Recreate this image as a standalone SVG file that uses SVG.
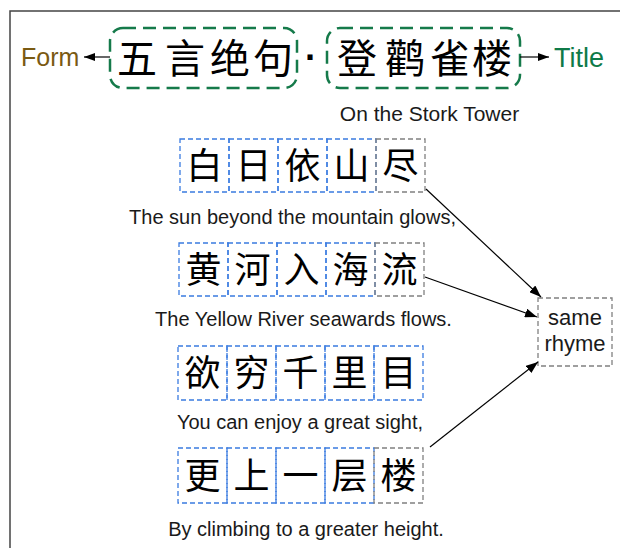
<svg xmlns="http://www.w3.org/2000/svg" width="620" height="548" viewBox="0 0 620 548">
<style>
.en{font-family:"Liberation Sans",Arial,sans-serif;fill:#1a1a1a}
.cn{font-family:"Noto Sans CJK SC","Noto Sans CJK JP",sans-serif;fill:#000;text-anchor:middle}
.tbox{fill:none;stroke:#157a4a;stroke-width:2.5;stroke-dasharray:13 7}
.cb{fill:none;stroke:#3a7be0;stroke-width:1.3;stroke-dasharray:5 3}
.cg{fill:none;stroke:#808080;stroke-width:1.3;stroke-dasharray:5 3}
.ln{stroke:#000;stroke-width:1.2;fill:none}
</style>
<defs>
<marker id="ah" markerWidth="12" markerHeight="9" refX="12" refY="4.5" orient="auto" markerUnits="userSpaceOnUse"><path d="M0,0 L12,4.5 L0,9 Z" fill="#000"/></marker>
<marker id="as" markerWidth="11" markerHeight="8" refX="11" refY="4" orient="auto" markerUnits="userSpaceOnUse"><path d="M0,0 L11,4 L0,8 Z" fill="#000"/></marker>
</defs>
<rect width="620" height="548" fill="#fff"/>
<path d="M10,548 V11 H620" fill="none" stroke="#444" stroke-width="1.5"/>

<g id="form-label"><text class="en" x="21" y="66" font-size="25" style="fill:#7a5a12">Form</text></g>
<g id="title-label"><text class="en" x="554" y="66.5" font-size="27" style="fill:#0f7a48">Title</text></g>

<g id="form-box">
<rect class="tbox" x="110" y="28" width="187" height="60" rx="13"/>
<text class="cn" y="73" font-size="40"><tspan x="137">五</tspan><tspan x="185">言</tspan><tspan x="230">绝</tspan><tspan x="273">句</tspan></text>
</g>
<g id="dot"><text class="en" x="311" y="70" font-size="36" font-weight="bold" text-anchor="middle" style="fill:#000">·</text></g>
<g id="title-box">
<rect class="tbox" x="327" y="28" width="193" height="60" rx="13"/>
<text class="cn" y="73" font-size="40"><tspan x="357">登</tspan><tspan x="405">鹳</tspan><tspan x="450">雀</tspan><tspan x="492">楼</tspan></text>
</g>
<g id="title-en"><text class="en" x="429.5" y="121" font-size="21" text-anchor="middle">On the Stork Tower</text></g>

<g id="line1">
<rect class="cb" x="180" y="139" width="49" height="53"/>
<rect class="cb" x="229" y="139" width="49" height="53"/>
<rect class="cb" x="278" y="139" width="49" height="53"/>
<rect class="cb" x="327" y="139" width="49" height="53"/>
<rect class="cg" x="376" y="139" width="49" height="53"/>
<text class="cn" y="179" font-size="36"><tspan x="204.5">白</tspan><tspan x="253.5">日</tspan><tspan x="302.5">依</tspan><tspan x="351.5">山</tspan><tspan x="400.5">尽</tspan></text>
<text class="en" x="292.5" y="224" font-size="20" text-anchor="middle">The sun beyond the mountain glows,</text>
</g>
<g id="line2">
<rect class="cb" x="179" y="243" width="49" height="53"/>
<rect class="cb" x="228" y="243" width="49" height="53"/>
<rect class="cb" x="277" y="243" width="49" height="53"/>
<rect class="cb" x="326" y="243" width="49" height="53"/>
<rect class="cg" x="375" y="243" width="49" height="53"/>
<text class="cn" y="283" font-size="36"><tspan x="203.5">黄</tspan><tspan x="252.5">河</tspan><tspan x="301.5">入</tspan><tspan x="350.5">海</tspan><tspan x="399.5">流</tspan></text>
<text class="en" x="303.5" y="326" font-size="20" text-anchor="middle">The Yellow River seawards flows.</text>
</g>
<g id="line3">
<rect class="cb" x="178" y="346" width="49" height="54"/>
<rect class="cb" x="227" y="346" width="49" height="54"/>
<rect class="cb" x="276" y="346" width="49" height="54"/>
<rect class="cb" x="325" y="346" width="49" height="54"/>
<rect class="cb" x="374" y="346" width="49" height="54"/>
<text class="cn" y="386" font-size="36"><tspan x="202.5">欲</tspan><tspan x="251.5">穷</tspan><tspan x="300.5">千</tspan><tspan x="349.5">里</tspan><tspan x="398.5">目</tspan></text>
<text class="en" x="300" y="429" font-size="20" text-anchor="middle">You can enjoy a great sight,</text>
</g>
<g id="line4">
<rect class="cb" x="178" y="448" width="49" height="55"/>
<rect class="cb" x="227" y="448" width="49" height="55"/>
<rect class="cb" x="276" y="448" width="49" height="55"/>
<rect class="cb" x="325" y="448" width="49" height="55"/>
<rect class="cg" x="374" y="448" width="49" height="55"/>
<text class="cn" y="489" font-size="36"><tspan x="202.5">更</tspan><tspan x="251.5">上</tspan><tspan x="300.5">一</tspan><tspan x="349.5">层</tspan><tspan x="398.5">楼</tspan></text>
<text class="en" x="306" y="536" font-size="20" text-anchor="middle">By climbing to a greater height.</text>
</g>

<g id="same-rhyme">
<rect class="cg" x="538" y="298" width="74" height="68"/>
<text class="en" x="575" y="325" font-size="22" text-anchor="middle">same</text>
<text class="en" x="575" y="351" font-size="22" text-anchor="middle">rhyme</text>
</g>

<g id="connectors">
<line class="ln" x1="110" y1="57" x2="84" y2="57" marker-end="url(#as)"/>
<line class="ln" x1="520" y1="57" x2="549" y2="57" marker-end="url(#as)"/>
<line class="ln" x1="426" y1="189" x2="541" y2="297" marker-end="url(#ah)"/>
<line class="ln" x1="425" y1="277" x2="537" y2="317" marker-end="url(#ah)"/>
<line class="ln" x1="430" y1="447" x2="538" y2="362" marker-end="url(#ah)"/>
</g>
</svg>
